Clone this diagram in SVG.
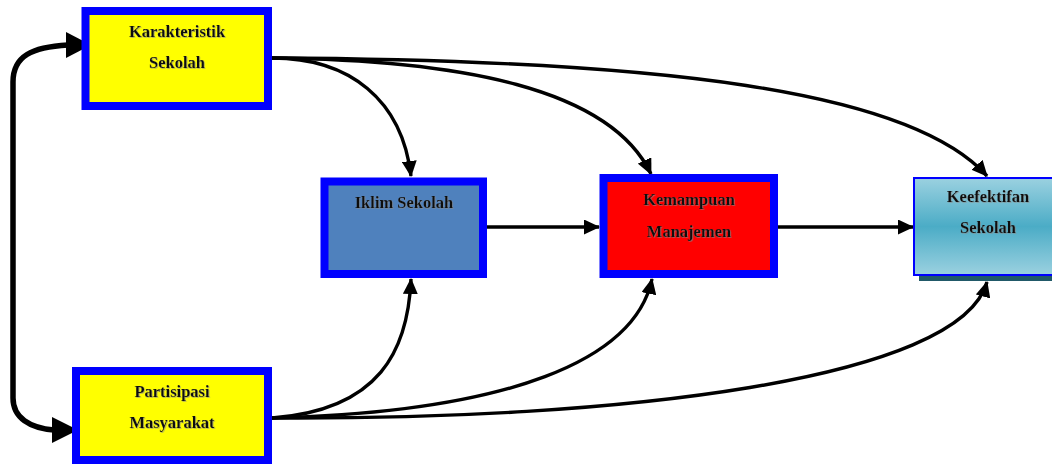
<svg xmlns="http://www.w3.org/2000/svg" width="1052" height="464" viewBox="0 0 1052 464">
<style>
.lbl{font-family:"Liberation Serif","Times New Roman",serif;font-weight:bold;font-size:16.5px;fill:#111;text-anchor:middle}
.box{stroke:#0000FF;stroke-width:8}
.con{fill:none;stroke:#000;stroke-width:3.4}
.thick{fill:none;stroke:#000;stroke-width:5.5}
</style>
<defs>
<marker id="ah" markerUnits="userSpaceOnUse" markerWidth="16" markerHeight="15" refX="15" refY="7.5" orient="auto">
<path d="M0,0 L16,7.5 L0,15 Z" fill="#000"/>
</marker>
<linearGradient id="g" x1="0" y1="0" x2="0" y2="1">
<stop offset="0" stop-color="#9BD1E0"/>
<stop offset="0.5" stop-color="#4BACC6"/>
<stop offset="1" stop-color="#9BD1E0"/>
</linearGradient>
<filter id="ts" x="-10%" y="-30%" width="120%" height="160%">
<feDropShadow dx="0.8" dy="0.8" stdDeviation="0.3" flood-color="#888" flood-opacity="0.7"/>
</filter>
</defs>

<g id="connectors">
<path class="thick" d="M68,45 C32,47 13,56 13,82 L13,398 C13,418 30,428 54,430"/>
<polygon points="91,45 66,32 66,58" fill="#000"/>
<polygon points="78,430 52,417 52,443" fill="#000"/>
<path class="con" d="M272,58 C350,58 402,100 411,176" marker-end="url(#ah)"/>
<path class="con" d="M272,58 C460,60 610,88 651,174" marker-end="url(#ah)"/>
<path class="con" d="M272,58 C660,60 910,90 987,176" marker-end="url(#ah)"/>
<path class="con" d="M272,418 C380,410 408,350 411,279" marker-end="url(#ah)"/>
<path class="con" d="M272,418 C510,412 635,360 652,279" marker-end="url(#ah)"/>
<path class="con" d="M272,418 C620,420 960,380 987,282" marker-end="url(#ah)"/>
<path class="con" d="M487,227 L599,227" marker-end="url(#ah)"/>
<path class="con" d="M778,227 L913,227" marker-end="url(#ah)"/>
</g>

<g id="karakteristik">
<rect class="box" x="85.5" y="11" width="182.5" height="95" fill="#FFFF00"/>
<text class="lbl" x="177" y="37" filter="url(#ts)">Karakteristik</text>
<text class="lbl" x="177" y="68" filter="url(#ts)">Sekolah</text>
</g>

<g id="partisipasi">
<rect class="box" x="76" y="371" width="192" height="89" fill="#FFFF00"/>
<text class="lbl" x="172" y="397" filter="url(#ts)">Partisipasi</text>
<text class="lbl" x="172" y="428" filter="url(#ts)">Masyarakat</text>
</g>

<g id="iklim">
<rect class="box" x="324.5" y="181.5" width="158.5" height="92.5" fill="#4F81BD"/>
<text class="lbl" x="404" y="208" filter="url(#ts)">Iklim Sekolah</text>
</g>

<g id="kemampuan">
<rect class="box" x="603.5" y="178" width="170.5" height="96" fill="#FF0000"/>
<text class="lbl" x="689" y="205" filter="url(#ts)">Kemampuan</text>
<text class="lbl" x="689" y="237" filter="url(#ts)">Manajemen</text>
</g>

<g id="keefektifan">
<rect x="919" y="183" width="149" height="98" fill="#215968"/>
<rect x="914" y="178" width="149" height="97" fill="url(#g)" stroke="#0000FF" stroke-width="2"/>
<text class="lbl" x="988" y="202" filter="url(#ts)">Keefektifan</text>
<text class="lbl" x="988" y="233" filter="url(#ts)">Sekolah</text>
</g>
</svg>
